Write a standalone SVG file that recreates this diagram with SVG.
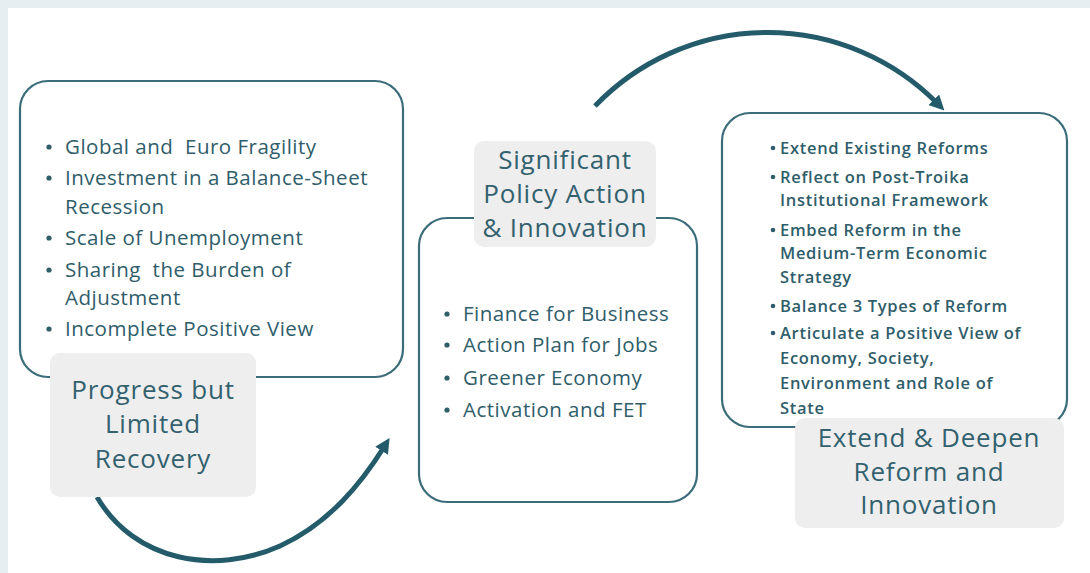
<svg xmlns="http://www.w3.org/2000/svg" width="1090" height="573" viewBox="0 0 1090 573">
<defs>
<style>
.frame{fill:#ffffff;stroke:#3b6c7a;stroke-width:2.2}
.label{fill:#eeeeee}
.lt{font-family:"Open Sans","Noto Sans",sans-serif;font-size:26px;letter-spacing:0.8px;fill:#33616e;text-anchor:middle}
.b1{font-family:"Open Sans","Noto Sans",sans-serif;font-size:20.5px;letter-spacing:0.5px;fill:#2f5d6a}
.b3{font-family:"Open Sans","Noto Sans",sans-serif;font-size:16.5px;letter-spacing:0.7px;fill:#2f5d6a;font-weight:600}
.dot{fill:#2f5d6a}
.arc{fill:none;stroke:#245b6b;stroke-width:5;marker-end:url(#ah)}
</style>
<marker id="ah" viewBox="0 0 10 10" refX="3" refY="5" markerWidth="3" markerHeight="3" orient="auto">
<path d="M0,0 L10,5 L0,10 z" fill="#245b6b"/>
</marker>
</defs>
<rect x="0" y="0" width="1090" height="573" fill="#ffffff"/>
<rect x="0" y="0" width="1090" height="8" fill="#e6eef1"/>
<rect x="0" y="0" width="8" height="573" fill="#e6eef1"/>

<g id="connectors">
<path class="arc" d="M97,497 C135,562 215,575 280,546 C330,523 362,482 384,447"/>
<path class="arc" d="M595,106 A239,239 0 0 1 937,103"/>
</g>

<g id="node1">
<rect class="frame" x="20" y="81" width="383" height="296" rx="28"/>
<g class="b1">
<text x="65" y="154" xml:space="preserve">Global and  Euro Fragility</text>
<text x="65" y="185">Investment in a Balance-Sheet</text>
<text x="65" y="214">Recession</text>
<text x="65" y="245">Scale of Unemployment</text>
<text x="65" y="277" xml:space="preserve">Sharing  the Burden of</text>
<text x="65" y="305">Adjustment</text>
<text x="65" y="336">Incomplete Positive View</text>
</g>
<circle class="dot" cx="49" cy="147" r="2.6"/>
<circle class="dot" cx="49" cy="178" r="2.6"/>
<circle class="dot" cx="49" cy="238" r="2.6"/>
<circle class="dot" cx="49" cy="270" r="2.6"/>
<circle class="dot" cx="49" cy="329" r="2.6"/>
<rect class="label" x="50" y="353" width="206" height="144" rx="10"/>
<text class="lt" x="153" y="399">Progress but</text>
<text class="lt" x="153" y="433">Limited</text>
<text class="lt" x="153" y="468">Recovery</text>
</g>

<g id="node2">
<rect class="frame" x="419" y="218" width="278" height="284" rx="28"/>
<g class="b1">
<text x="463" y="321">Finance for Business</text>
<text x="463" y="352">Action Plan for Jobs</text>
<text x="463" y="385">Greener Economy</text>
<text x="463" y="417">Activation and FET</text>
</g>
<circle class="dot" cx="447" cy="314" r="2.6"/>
<circle class="dot" cx="447" cy="345" r="2.6"/>
<circle class="dot" cx="447" cy="378" r="2.6"/>
<circle class="dot" cx="447" cy="410" r="2.6"/>
<rect class="label" x="474" y="141" width="182" height="106" rx="10"/>
<text class="lt" x="565" y="169">Significant</text>
<text class="lt" x="565" y="203">Policy Action</text>
<text class="lt" x="565" y="237">&amp; Innovation</text>
</g>

<g id="node3">
<rect class="frame" x="722" y="113" width="345" height="314" rx="28"/>
<g class="b3">
<text x="780" y="154">Extend Existing Reforms</text>
<text x="780" y="183">Reflect on Post-Troika</text>
<text x="780" y="206">Institutional Framework</text>
<text x="780" y="236">Embed Reform in the</text>
<text x="780" y="259">Medium-Term Economic</text>
<text x="780" y="283">Strategy</text>
<text x="780" y="312">Balance 3 Types of Reform</text>
<text x="780" y="339">Articulate a Positive View of</text>
<text x="780" y="364">Economy, Society,</text>
<text x="780" y="389">Environment and Role of</text>
<text x="780" y="414">State</text>
</g>
<circle class="dot" cx="773" cy="148" r="2.3"/>
<circle class="dot" cx="773" cy="177" r="2.3"/>
<circle class="dot" cx="773" cy="230" r="2.3"/>
<circle class="dot" cx="773" cy="306" r="2.3"/>
<circle class="dot" cx="773" cy="333" r="2.3"/>
<rect class="label" x="795" y="418" width="269" height="110" rx="10"/>
<text class="lt" x="929" y="447">Extend &amp; Deepen</text>
<text class="lt" x="929" y="481">Reform and</text>
<text class="lt" x="929" y="514">Innovation</text>
</g>
</svg>
